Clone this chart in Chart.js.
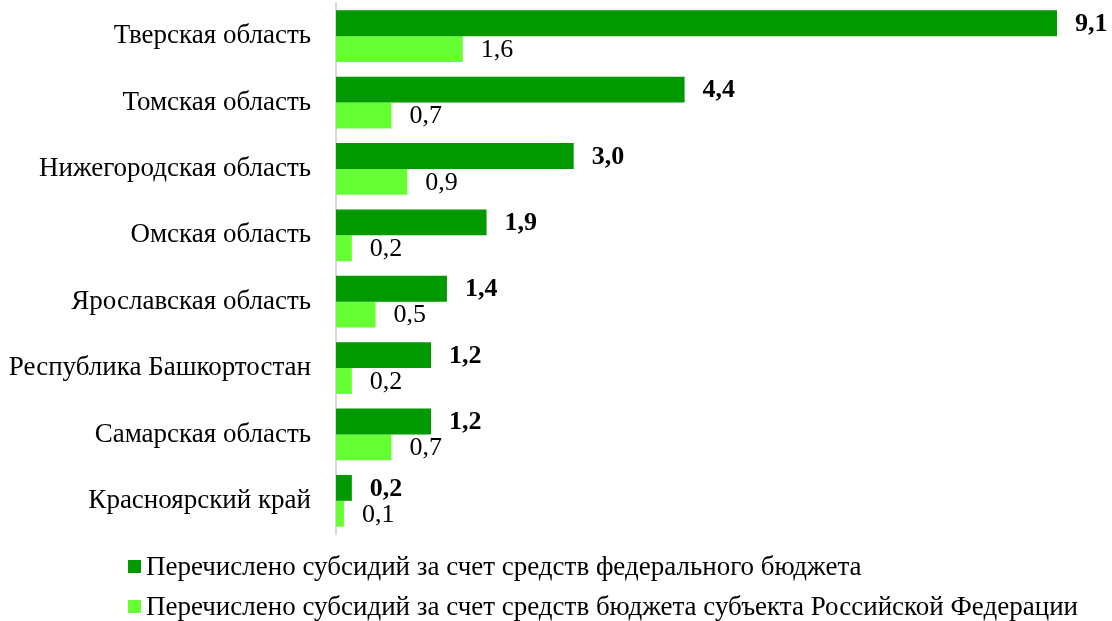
<!DOCTYPE html>
<html>
<head>
<meta charset="utf-8">
<script src="https://cdn.jsdelivr.net/npm/chart.js@4/dist/chart.umd.min.js"></script>
<style>
  html, body { margin: 0; padding: 0; background: #fff; }
  #wrap { position: relative; width: 1112px; height: 621px; }
  #legend { position: absolute; left: 128px; top: 546px; font-family: "Liberation Serif", serif; font-size: 27px; color: #000; }
  #legend div { height: 40px; line-height: 40px; white-space: nowrap; }
  #legend span.sw { display: inline-block; width: 13px; height: 13px; margin-right: 5px; vertical-align: 2px; }
</style>
</head>
<body>
<div id="wrap">
  <canvas id="chart" width="1112" height="621"></canvas>
  <div id="legend"></div>
</div>
<script>
const regions = ['Тверская область', 'Томская область', 'Нижегородская область', 'Омская область',
  'Ярославская область', 'Республика Башкортостан', 'Самарская область', 'Красноярский край'];
const federal = [9.1, 4.4, 3.0, 1.9, 1.4, 1.2, 1.2, 0.2];
const regional = [1.6, 0.7, 0.9, 0.2, 0.5, 0.2, 0.7, 0.1];
const seriesNames = ['Перечислено субсидий за счет средств федерального бюджета',
  'Перечислено субсидий за счет средств бюджета субъекта Российской Федерации'];
const colors = ['#009900', '#66ff33'];

// value labels next to bars
const valueLabels = {
    id: 'valueLabels',
    afterDatasetsDraw(chart) {
        const c = chart.ctx;
        c.save();
        c.fillStyle = '#000';
        c.textBaseline = 'middle';
        c.textAlign = 'left';
        chart.data.datasets.forEach((ds, i) => {
            c.font = (i === 0 ? 'bold ' : '') + '26px "Liberation Serif", serif';
            chart.getDatasetMeta(i).data.forEach((bar, j) => {
                c.fillText(ds.data[j].toFixed(1).replace('.', ','), bar.x + 18, bar.y + 1);
            });
        });
        c.restore();
    }
};

const ctx = document.getElementById('chart').getContext('2d');
const chart = new Chart(ctx, {
    type: 'bar',
    data: {
        labels: regions,
        datasets: [{
            label: seriesNames[0],
            data: federal,
            backgroundColor: colors[0],
            categoryPercentage: 0.78,
            barPercentage: 1.0
        },
        {
            label: seriesNames[1],
            data: regional,
            backgroundColor: colors[1],
            categoryPercentage: 0.78,
            barPercentage: 1.0
        }]
    },
    options: {
        indexAxis: 'y',
        responsive: false,
        animation: false,
        layout: { padding: { top: 3, bottom: 87, right: 55, left: 0 } },
        scales: {
            x: {
                display: false,
                min: 0,
                max: 9.1
            },
            y: {
                afterFit(scale) {
                    scale.width = 336;
                    scale.paddingTop = 0;
                    scale.paddingBottom = 0;
                },
                grid: { display: false, drawTicks: false },
                border: { display: true, color: '#d9d9d9', width: 2 },
                ticks: {
                    color: '#000',
                    padding: 25,
                    font: { family: '"Liberation Serif", serif', size: 27 }
                }
            }
        },
        plugins: {
            legend: { display: false },
            tooltip: { enabled: false }
        }
    },
    plugins: [valueLabels]
});

const legend = document.getElementById('legend');
seriesNames.forEach((name, i) => {
    const row = document.createElement('div');
    const sw = document.createElement('span');
    sw.className = 'sw';
    sw.style.background = colors[i];
    row.appendChild(sw);
    row.appendChild(document.createTextNode(name));
    legend.appendChild(row);
});
</script>
</body>
</html>
